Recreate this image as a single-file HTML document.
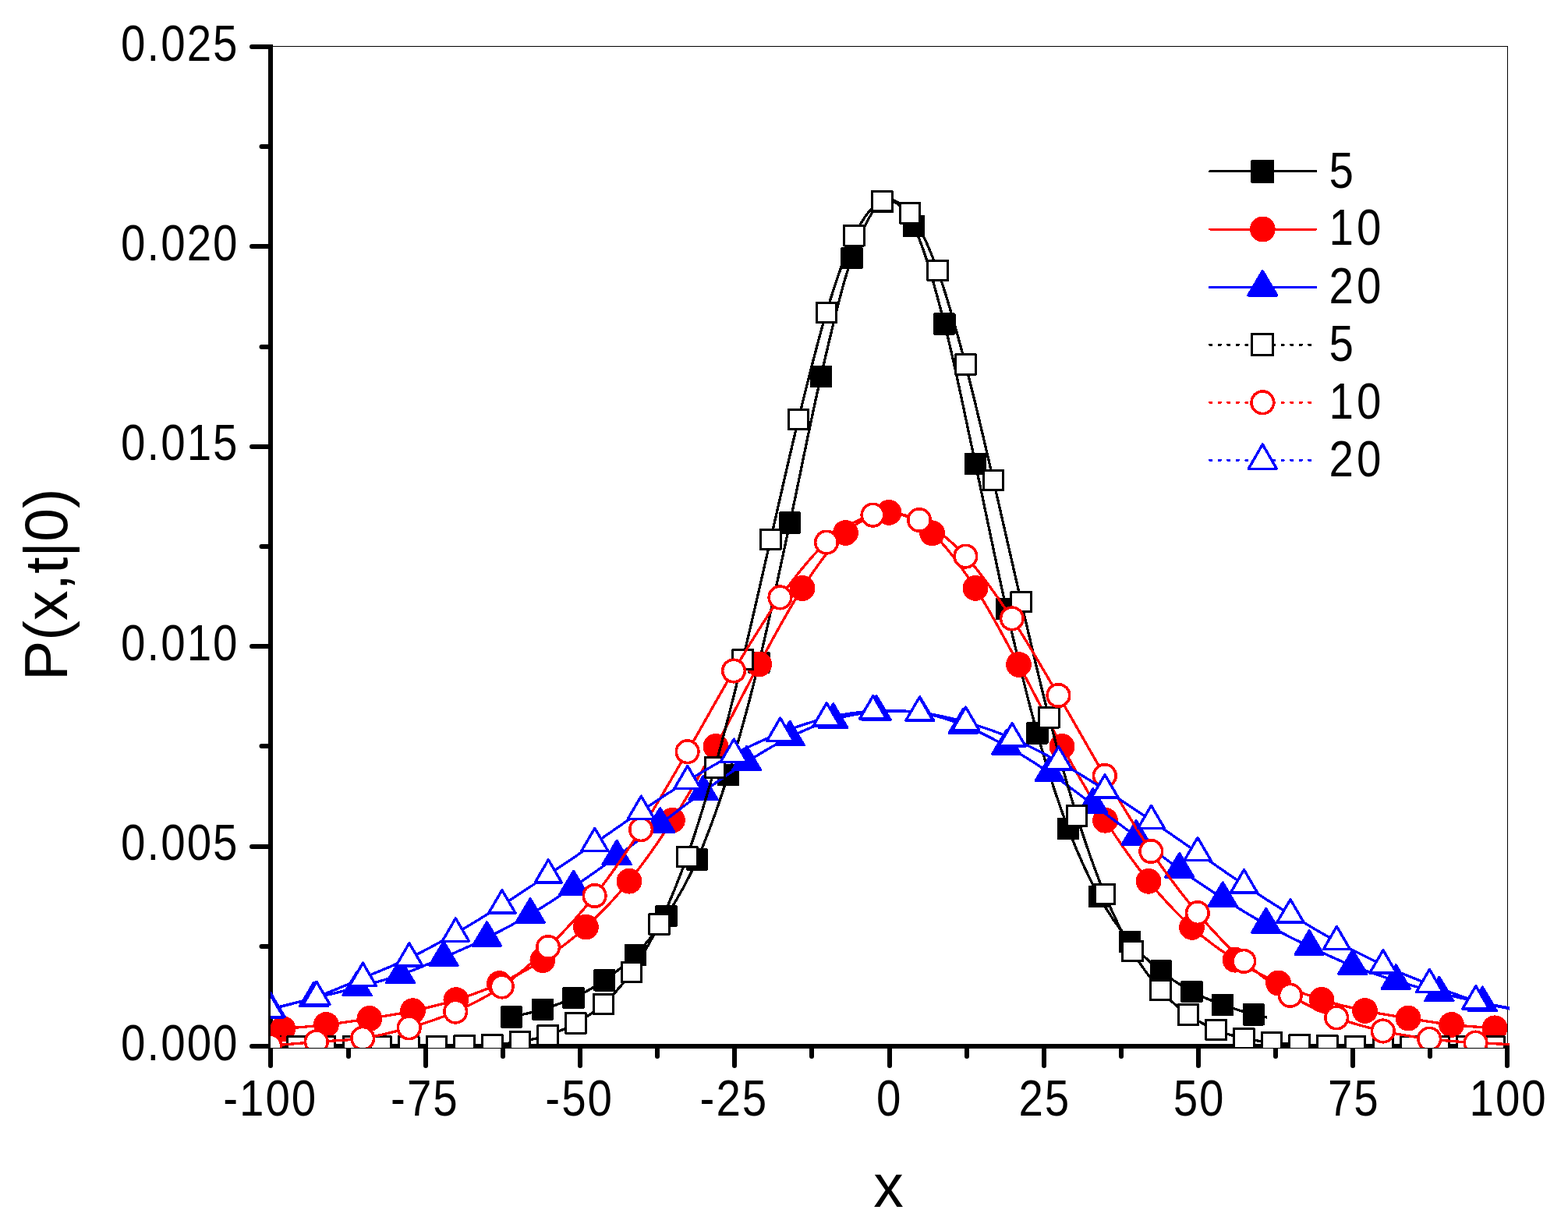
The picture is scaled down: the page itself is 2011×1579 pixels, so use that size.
<!DOCTYPE html>
<html lang="en"><head><meta charset="utf-8"><title>P(x,t|0) vs x</title>
<style>html,body{margin:0;padding:0;background:#fff;overflow:hidden}svg{display:block}text{font-family:"Liberation Sans",sans-serif;fill:#000}</style></head><body>
<svg width="2011" height="1579" viewBox="0 0 2011 1579">
<rect width="2011" height="1579" fill="#fff"/>
<defs><clipPath id="plot"><rect x="347" y="40" width="1589" height="1304"/></clipPath></defs>
<g shape-rendering="crispEdges" fill="#000">
<rect x="347" y="59" width="1587" height="1"/>
<rect x="1933" y="59" width="1" height="1286"/>
<rect x="344" y="57" width="6" height="1288"/>
<rect x="344" y="1339" width="1592" height="6"/>
</g>
<g stroke="#000" stroke-width="6" stroke-linecap="round" fill="none">
<line x1="323" y1="1342" x2="345" y2="1342"/>
<line x1="335.5" y1="1214" x2="345" y2="1214"/>
<line x1="323" y1="1086" x2="345" y2="1086"/>
<line x1="335.5" y1="957" x2="345" y2="957"/>
<line x1="323" y1="829" x2="345" y2="829"/>
<line x1="335.5" y1="701" x2="345" y2="701"/>
<line x1="323" y1="573" x2="345" y2="573"/>
<line x1="335.5" y1="445" x2="345" y2="445"/>
<line x1="323" y1="316" x2="345" y2="316"/>
<line x1="335.5" y1="188" x2="345" y2="188"/>
<line x1="323" y1="60" x2="345" y2="60"/>
<line x1="347" y1="1344" x2="347" y2="1367"/>
<line x1="447" y1="1344" x2="447" y2="1355"/>
<line x1="546" y1="1344" x2="546" y2="1367"/>
<line x1="645" y1="1344" x2="645" y2="1355"/>
<line x1="744" y1="1344" x2="744" y2="1367"/>
<line x1="843" y1="1344" x2="843" y2="1355"/>
<line x1="942" y1="1344" x2="942" y2="1367"/>
<line x1="1041" y1="1344" x2="1041" y2="1355"/>
<line x1="1141" y1="1344" x2="1141" y2="1367"/>
<line x1="1240" y1="1344" x2="1240" y2="1355"/>
<line x1="1339" y1="1344" x2="1339" y2="1367"/>
<line x1="1438" y1="1344" x2="1438" y2="1355"/>
<line x1="1537" y1="1344" x2="1537" y2="1367"/>
<line x1="1636" y1="1344" x2="1636" y2="1355"/>
<line x1="1735" y1="1344" x2="1735" y2="1367"/>
<line x1="1834" y1="1344" x2="1834" y2="1355"/>
<line x1="1933" y1="1344" x2="1933" y2="1367"/>
</g>
<text transform="translate(306.52,1359.50) scale(0.88,1)" text-anchor="end" font-size="64.2px" letter-spacing="2.3">0.000</text>
<text transform="translate(306.52,1103.10) scale(0.88,1)" text-anchor="end" font-size="64.2px" letter-spacing="2.3">0.005</text>
<text transform="translate(306.52,846.70) scale(0.88,1)" text-anchor="end" font-size="64.2px" letter-spacing="2.3">0.010</text>
<text transform="translate(306.52,590.30) scale(0.88,1)" text-anchor="end" font-size="64.2px" letter-spacing="2.3">0.015</text>
<text transform="translate(306.52,333.90) scale(0.88,1)" text-anchor="end" font-size="64.2px" letter-spacing="2.3">0.020</text>
<text transform="translate(306.52,77.50) scale(0.88,1)" text-anchor="end" font-size="64.2px" letter-spacing="2.3">0.025</text>
<text transform="translate(346.71,1430.60) scale(0.88,1)" text-anchor="middle" font-size="64.2px" letter-spacing="2.3">-100</text>
<text transform="translate(544.96,1430.60) scale(0.88,1)" text-anchor="middle" font-size="64.2px" letter-spacing="2.3">-75</text>
<text transform="translate(743.21,1430.60) scale(0.88,1)" text-anchor="middle" font-size="64.2px" letter-spacing="2.3">-50</text>
<text transform="translate(941.46,1430.60) scale(0.88,1)" text-anchor="middle" font-size="64.2px" letter-spacing="2.3">-25</text>
<text transform="translate(1140.61,1430.60) scale(0.88,1)" text-anchor="middle" font-size="64.2px" letter-spacing="2.3">0</text>
<text transform="translate(1339.86,1430.60) scale(0.88,1)" text-anchor="middle" font-size="64.2px" letter-spacing="2.3">25</text>
<text transform="translate(1538.11,1430.60) scale(0.88,1)" text-anchor="middle" font-size="64.2px" letter-spacing="2.3">50</text>
<text transform="translate(1736.36,1430.60) scale(0.88,1)" text-anchor="middle" font-size="64.2px" letter-spacing="2.3">75</text>
<text transform="translate(1934.61,1430.60) scale(0.88,1)" text-anchor="middle" font-size="64.2px" letter-spacing="2.3">100</text>
<text x="1139.5" y="1548" font-size="77px" text-anchor="middle">x</text>
<text transform="translate(86.2,873) rotate(-90)" font-size="77px">P(x,t|0)</text>
<g clip-path="url(#plot)" shape-rendering="crispEdges" fill="none" stroke-linejoin="round">
<path d="M656.3,1304.5C662.9,1302.9 682.7,1298.8 695.9,1294.7C709.1,1290.6 722.4,1286.1 735.6,1279.9C748.8,1273.7 762.0,1266.6 775.2,1257.4C788.4,1248.2 801.7,1238.5 814.9,1224.8C828.1,1211.1 841.3,1195.7 854.5,1175.3C867.7,1154.9 881.0,1132.7 894.2,1102.5C907.4,1072.3 920.6,1036.2 933.8,994.1C947.0,952.0 960.3,903.5 973.5,849.6C986.7,795.7 999.9,731.6 1013.1,670.5C1026.3,609.4 1039.6,539.6 1052.8,483.0C1066.0,426.4 1079.2,368.2 1092.4,330.9C1105.6,293.6 1118.9,265.8 1132.1,259.0C1145.3,252.2 1158.5,263.8 1171.7,289.9C1184.9,316.0 1198.2,364.7 1211.4,415.5C1224.6,466.3 1237.8,534.0 1251.0,594.9C1264.2,655.8 1277.5,723.3 1290.7,780.9C1303.9,838.5 1317.1,893.5 1330.3,940.5C1343.5,987.5 1356.8,1028.0 1370.0,1062.9C1383.2,1097.8 1396.4,1125.7 1409.6,1149.9C1422.8,1174.1 1436.1,1192.0 1449.3,1208.0C1462.5,1224.0 1475.7,1234.9 1488.9,1245.6C1502.1,1256.2 1515.4,1264.7 1528.6,1271.9C1541.8,1279.1 1555.0,1284.0 1568.2,1288.9C1581.4,1293.8 1598.4,1298.7 1607.9,1301.4C1617.3,1304.1 1622.0,1304.3 1624.9,1304.9" stroke="#000" stroke-width="3.3"/>
<rect x="642.1" y="1290.3" width="28.3" height="28.3" rx="1.6" fill="#000"/><rect x="681.8" y="1280.5" width="28.3" height="28.3" rx="1.6" fill="#000"/><rect x="721.4" y="1265.8" width="28.3" height="28.3" rx="1.6" fill="#000"/><rect x="761.1" y="1243.2" width="28.3" height="28.3" rx="1.6" fill="#000"/><rect x="800.7" y="1210.6" width="28.3" height="28.3" rx="1.6" fill="#000"/><rect x="840.4" y="1161.1" width="28.3" height="28.3" rx="1.6" fill="#000"/><rect x="880.0" y="1088.3" width="28.3" height="28.3" rx="1.6" fill="#000"/><rect x="919.7" y="980.0" width="28.3" height="28.3" rx="1.6" fill="#000"/><rect x="959.3" y="835.5" width="28.3" height="28.3" rx="1.6" fill="#000"/><rect x="999.0" y="656.4" width="28.3" height="28.3" rx="1.6" fill="#000"/><rect x="1038.6" y="468.9" width="28.3" height="28.3" rx="1.6" fill="#000"/><rect x="1078.3" y="316.8" width="28.3" height="28.3" rx="1.6" fill="#000"/><rect x="1117.9" y="244.8" width="28.3" height="28.3" rx="1.6" fill="#000"/><rect x="1157.6" y="275.8" width="28.3" height="28.3" rx="1.6" fill="#000"/><rect x="1197.2" y="401.4" width="28.3" height="28.3" rx="1.6" fill="#000"/><rect x="1236.9" y="580.8" width="28.3" height="28.3" rx="1.6" fill="#000"/><rect x="1276.5" y="766.8" width="28.3" height="28.3" rx="1.6" fill="#000"/><rect x="1316.2" y="926.4" width="28.3" height="28.3" rx="1.6" fill="#000"/><rect x="1355.8" y="1048.8" width="28.3" height="28.3" rx="1.6" fill="#000"/><rect x="1395.5" y="1135.8" width="28.3" height="28.3" rx="1.6" fill="#000"/><rect x="1435.1" y="1193.8" width="28.3" height="28.3" rx="1.6" fill="#000"/><rect x="1474.8" y="1231.4" width="28.3" height="28.3" rx="1.6" fill="#000"/><rect x="1514.4" y="1257.8" width="28.3" height="28.3" rx="1.6" fill="#000"/><rect x="1554.1" y="1274.8" width="28.3" height="28.3" rx="1.6" fill="#000"/><rect x="1593.7" y="1287.2" width="28.3" height="28.3" rx="1.6" fill="#000"/>
<path d="M362.9,1319.6C372.1,1318.7 399.9,1316.6 418.4,1314.4C436.9,1312.2 455.4,1309.5 473.9,1306.5C492.4,1303.5 510.9,1300.7 529.4,1296.7C547.9,1292.7 566.4,1288.4 584.9,1282.6C603.4,1276.8 621.9,1270.1 640.4,1261.6C658.9,1253.1 677.4,1243.7 695.9,1231.6C714.4,1219.5 732.9,1206.0 751.4,1189.1C769.9,1172.2 788.4,1153.0 806.9,1130.2C825.4,1107.4 843.9,1081.0 862.4,1052.2C881.0,1023.4 899.5,990.8 918.0,957.4C936.5,924.0 955.0,885.8 973.5,852.0C992.0,818.2 1010.5,782.6 1029.0,754.5C1047.5,726.4 1066.0,699.6 1084.5,683.4C1103.0,667.2 1121.5,657.3 1140.0,657.4C1158.5,657.5 1177.0,667.6 1195.5,683.8C1214.0,700.0 1232.5,726.3 1251.0,754.4C1269.5,782.5 1288.0,818.6 1306.5,852.4C1325.0,886.2 1343.5,924.0 1362.0,957.3C1380.5,990.6 1399.0,1023.5 1417.5,1052.3C1436.1,1081.1 1454.6,1107.4 1473.1,1130.3C1491.6,1153.2 1510.1,1172.6 1528.6,1189.4C1547.1,1206.2 1565.6,1219.3 1584.1,1231.2C1602.6,1243.1 1621.1,1252.5 1639.6,1261.0C1658.1,1269.5 1676.6,1276.5 1695.1,1282.4C1713.6,1288.3 1732.1,1292.5 1750.6,1296.5C1769.1,1300.5 1787.6,1303.1 1806.1,1306.1C1824.6,1309.1 1843.1,1312.3 1861.6,1314.4C1880.1,1316.5 1907.9,1318.1 1917.1,1318.8" stroke="#f00" stroke-width="3.3"/>
<circle cx="362.9" cy="1319.6" r="16.4" fill="#f00"/><circle cx="418.4" cy="1314.4" r="16.4" fill="#f00"/><circle cx="473.9" cy="1306.5" r="16.4" fill="#f00"/><circle cx="529.4" cy="1296.7" r="16.4" fill="#f00"/><circle cx="584.9" cy="1282.6" r="16.4" fill="#f00"/><circle cx="640.4" cy="1261.6" r="16.4" fill="#f00"/><circle cx="695.9" cy="1231.6" r="16.4" fill="#f00"/><circle cx="751.4" cy="1189.1" r="16.4" fill="#f00"/><circle cx="806.9" cy="1130.2" r="16.4" fill="#f00"/><circle cx="862.4" cy="1052.2" r="16.4" fill="#f00"/><circle cx="918.0" cy="957.4" r="16.4" fill="#f00"/><circle cx="973.5" cy="852.0" r="16.4" fill="#f00"/><circle cx="1029.0" cy="754.5" r="16.4" fill="#f00"/><circle cx="1084.5" cy="683.4" r="16.4" fill="#f00"/><circle cx="1140.0" cy="657.4" r="16.4" fill="#f00"/><circle cx="1195.5" cy="683.8" r="16.4" fill="#f00"/><circle cx="1251.0" cy="754.4" r="16.4" fill="#f00"/><circle cx="1306.5" cy="852.4" r="16.4" fill="#f00"/><circle cx="1362.0" cy="957.3" r="16.4" fill="#f00"/><circle cx="1417.5" cy="1052.3" r="16.4" fill="#f00"/><circle cx="1473.1" cy="1130.3" r="16.4" fill="#f00"/><circle cx="1528.6" cy="1189.4" r="16.4" fill="#f00"/><circle cx="1584.1" cy="1231.2" r="16.4" fill="#f00"/><circle cx="1639.6" cy="1261.0" r="16.4" fill="#f00"/><circle cx="1695.1" cy="1282.4" r="16.4" fill="#f00"/><circle cx="1750.6" cy="1296.5" r="16.4" fill="#f00"/><circle cx="1806.1" cy="1306.1" r="16.4" fill="#f00"/><circle cx="1861.6" cy="1314.4" r="16.4" fill="#f00"/><circle cx="1917.1" cy="1318.8" r="16.4" fill="#f00"/>
<path d="M347.0,1294.0C356.3,1291.8 384.0,1285.1 402.5,1280.5C421.0,1275.9 439.5,1271.5 458.0,1266.5C476.5,1261.5 495.0,1256.9 513.5,1250.5C532.0,1244.1 550.5,1236.1 569.0,1228.2C587.5,1220.3 606.0,1212.2 624.5,1203.0C643.1,1193.8 661.6,1183.9 680.1,1173.0C698.6,1162.1 717.1,1149.9 735.6,1137.5C754.1,1125.1 772.6,1111.9 791.1,1098.5C809.6,1085.1 828.1,1070.8 846.6,1057.0C865.1,1043.2 883.6,1028.8 902.1,1015.5C920.6,1002.2 939.1,989.2 957.6,977.5C976.1,965.8 994.6,954.6 1013.1,945.5C1031.6,936.4 1050.1,928.4 1068.6,923.0C1087.1,917.6 1105.6,914.5 1124.1,913.0C1142.6,911.5 1161.1,911.2 1179.7,914.0C1198.2,916.8 1216.7,922.8 1235.2,930.0C1253.7,937.2 1272.2,946.8 1290.7,957.0C1309.2,967.2 1327.7,978.8 1346.2,991.3C1364.7,1003.8 1383.2,1018.4 1401.7,1032.0C1420.2,1045.6 1438.7,1059.2 1457.2,1073.0C1475.7,1086.8 1494.2,1101.6 1512.7,1114.8C1531.2,1128.0 1549.7,1140.5 1568.2,1152.3C1586.7,1164.1 1605.2,1175.4 1623.7,1185.7C1642.2,1196.0 1660.7,1205.1 1679.2,1214.0C1697.7,1222.9 1716.2,1231.7 1734.8,1239.0C1753.3,1246.3 1771.8,1252.2 1790.3,1258.0C1808.8,1263.8 1827.3,1268.8 1845.8,1273.5C1864.3,1278.2 1886.2,1283.0 1901.3,1286.3C1916.3,1289.5 1930.2,1291.9 1936.0,1293.0" stroke="#00f" stroke-width="3.3"/>
<polygon points="347.0,1273.9 365.0,1304.2 329.0,1304.2" fill="#00f" stroke="#00f" stroke-width="3.4" stroke-linejoin="round"/><polygon points="402.5,1260.4 420.5,1290.7 384.5,1290.7" fill="#00f" stroke="#00f" stroke-width="3.4" stroke-linejoin="round"/><polygon points="458.0,1246.4 476.0,1276.7 440.0,1276.7" fill="#00f" stroke="#00f" stroke-width="3.4" stroke-linejoin="round"/><polygon points="513.5,1230.4 531.5,1260.7 495.5,1260.7" fill="#00f" stroke="#00f" stroke-width="3.4" stroke-linejoin="round"/><polygon points="569.0,1208.1 587.0,1238.4 551.0,1238.4" fill="#00f" stroke="#00f" stroke-width="3.4" stroke-linejoin="round"/><polygon points="624.5,1182.9 642.5,1213.2 606.5,1213.2" fill="#00f" stroke="#00f" stroke-width="3.4" stroke-linejoin="round"/><polygon points="680.1,1152.9 698.1,1183.2 662.1,1183.2" fill="#00f" stroke="#00f" stroke-width="3.4" stroke-linejoin="round"/><polygon points="735.6,1117.4 753.6,1147.7 717.6,1147.7" fill="#00f" stroke="#00f" stroke-width="3.4" stroke-linejoin="round"/><polygon points="791.1,1078.4 809.1,1108.7 773.1,1108.7" fill="#00f" stroke="#00f" stroke-width="3.4" stroke-linejoin="round"/><polygon points="846.6,1036.9 864.6,1067.2 828.6,1067.2" fill="#00f" stroke="#00f" stroke-width="3.4" stroke-linejoin="round"/><polygon points="902.1,995.4 920.1,1025.7 884.1,1025.7" fill="#00f" stroke="#00f" stroke-width="3.4" stroke-linejoin="round"/><polygon points="957.6,957.4 975.6,987.7 939.6,987.7" fill="#00f" stroke="#00f" stroke-width="3.4" stroke-linejoin="round"/><polygon points="1013.1,925.4 1031.1,955.7 995.1,955.7" fill="#00f" stroke="#00f" stroke-width="3.4" stroke-linejoin="round"/><polygon points="1068.6,902.9 1086.6,933.2 1050.6,933.2" fill="#00f" stroke="#00f" stroke-width="3.4" stroke-linejoin="round"/><polygon points="1124.1,892.9 1142.1,923.2 1106.1,923.2" fill="#00f" stroke="#00f" stroke-width="3.4" stroke-linejoin="round"/><polygon points="1179.7,893.9 1197.7,924.2 1161.7,924.2" fill="#00f" stroke="#00f" stroke-width="3.4" stroke-linejoin="round"/><polygon points="1235.2,909.9 1253.2,940.2 1217.2,940.2" fill="#00f" stroke="#00f" stroke-width="3.4" stroke-linejoin="round"/><polygon points="1290.7,936.9 1308.7,967.2 1272.7,967.2" fill="#00f" stroke="#00f" stroke-width="3.4" stroke-linejoin="round"/><polygon points="1346.2,971.2 1364.2,1001.5 1328.2,1001.5" fill="#00f" stroke="#00f" stroke-width="3.4" stroke-linejoin="round"/><polygon points="1401.7,1011.9 1419.7,1042.2 1383.7,1042.2" fill="#00f" stroke="#00f" stroke-width="3.4" stroke-linejoin="round"/><polygon points="1457.2,1052.9 1475.2,1083.2 1439.2,1083.2" fill="#00f" stroke="#00f" stroke-width="3.4" stroke-linejoin="round"/><polygon points="1512.7,1094.7 1530.7,1125.0 1494.7,1125.0" fill="#00f" stroke="#00f" stroke-width="3.4" stroke-linejoin="round"/><polygon points="1568.2,1132.2 1586.2,1162.5 1550.2,1162.5" fill="#00f" stroke="#00f" stroke-width="3.4" stroke-linejoin="round"/><polygon points="1623.7,1165.6 1641.7,1195.9 1605.7,1195.9" fill="#00f" stroke="#00f" stroke-width="3.4" stroke-linejoin="round"/><polygon points="1679.2,1193.9 1697.2,1224.2 1661.2,1224.2" fill="#00f" stroke="#00f" stroke-width="3.4" stroke-linejoin="round"/><polygon points="1734.8,1218.9 1752.8,1249.2 1716.8,1249.2" fill="#00f" stroke="#00f" stroke-width="3.4" stroke-linejoin="round"/><polygon points="1790.3,1237.9 1808.3,1268.2 1772.3,1268.2" fill="#00f" stroke="#00f" stroke-width="3.4" stroke-linejoin="round"/><polygon points="1845.8,1253.4 1863.8,1283.7 1827.8,1283.7" fill="#00f" stroke="#00f" stroke-width="3.4" stroke-linejoin="round"/><polygon points="1901.3,1266.2 1919.3,1296.5 1883.3,1296.5" fill="#00f" stroke="#00f" stroke-width="3.4" stroke-linejoin="round"/>
<path d="M345.7,1342.5C351.6,1342.5 369.5,1342.5 381.4,1342.5C393.3,1342.5 405.2,1342.5 417.1,1342.5C429.0,1342.5 440.9,1342.5 452.8,1342.5C464.7,1342.5 476.6,1342.5 488.5,1342.5C500.4,1342.5 512.3,1342.5 524.2,1342.4C536.1,1342.4 548.0,1342.4 559.9,1342.2C571.8,1342.0 583.7,1341.6 595.6,1341.3C607.5,1341.0 619.4,1341.1 631.3,1340.2C643.2,1339.3 655.1,1338.0 667.0,1336.0C678.9,1334.0 690.8,1331.9 702.7,1328.0C714.6,1324.1 726.5,1319.1 738.4,1312.4C750.3,1305.7 762.2,1298.8 774.1,1287.9C786.0,1277.0 797.9,1264.0 809.8,1246.9C821.7,1229.8 833.6,1210.2 845.5,1185.5C857.4,1160.8 869.3,1132.3 881.2,1098.8C893.1,1065.3 905.0,1026.5 916.9,984.4C928.8,942.3 940.7,894.7 952.6,846.0C964.5,797.3 976.4,743.3 988.3,692.0C1000.2,640.7 1012.1,586.5 1024.0,538.0C1036.0,489.5 1047.9,440.3 1059.8,401.0C1071.7,361.7 1083.6,326.1 1095.5,302.2C1107.4,278.3 1119.3,262.6 1131.2,257.8C1143.1,253.0 1155.0,258.5 1166.9,273.4C1178.8,288.2 1190.7,314.5 1202.6,346.9C1214.5,379.2 1226.4,422.7 1238.3,467.5C1250.2,512.3 1262.1,565.1 1274.0,615.9C1285.9,666.6 1297.8,721.3 1309.7,772.0C1321.6,822.7 1333.5,874.5 1345.4,920.2C1357.3,966.0 1369.2,1008.7 1381.1,1046.5C1393.0,1084.3 1404.9,1118.0 1416.8,1146.9C1428.7,1175.8 1440.6,1199.6 1452.5,1220.1C1464.4,1240.6 1476.3,1256.4 1488.2,1270.0C1500.1,1283.6 1512.0,1293.0 1523.9,1301.5C1535.8,1310.0 1547.7,1315.8 1559.6,1320.9C1571.5,1326.0 1583.4,1329.3 1595.3,1332.0C1607.2,1334.7 1619.1,1335.8 1631.0,1337.1C1642.9,1338.4 1654.8,1339.3 1666.7,1340.0C1678.6,1340.7 1690.5,1340.7 1702.4,1341.0C1714.3,1341.3 1726.2,1341.8 1738.1,1342.0C1750.0,1342.2 1761.9,1342.2 1773.8,1342.3C1785.7,1342.4 1797.6,1342.5 1809.5,1342.5C1821.4,1342.5 1833.3,1342.5 1845.2,1342.5C1857.1,1342.5 1869.0,1342.5 1880.9,1342.5C1892.8,1342.5 1910.7,1342.5 1916.6,1342.5" stroke="#000" stroke-width="3.3"/>
<rect x="358.5" y="1327.5" width="2" height="2" fill="#000"/>
<rect x="368.6" y="1329.7" width="25.6" height="25.6" fill="#fff" stroke="#000" stroke-width="3.0"/><rect x="404.3" y="1329.7" width="25.6" height="25.6" fill="#fff" stroke="#000" stroke-width="3.0"/><rect x="440.0" y="1329.7" width="25.6" height="25.6" fill="#fff" stroke="#000" stroke-width="3.0"/><rect x="475.7" y="1329.7" width="25.6" height="25.6" fill="#fff" stroke="#000" stroke-width="3.0"/><rect x="511.4" y="1329.6" width="25.6" height="25.6" fill="#fff" stroke="#000" stroke-width="3.0"/><rect x="547.1" y="1329.4" width="25.6" height="25.6" fill="#fff" stroke="#000" stroke-width="3.0"/><rect x="582.8" y="1328.5" width="25.6" height="25.6" fill="#fff" stroke="#000" stroke-width="3.0"/><rect x="618.5" y="1327.4" width="25.6" height="25.6" fill="#fff" stroke="#000" stroke-width="3.0"/><rect x="654.2" y="1323.2" width="25.6" height="25.6" fill="#fff" stroke="#000" stroke-width="3.0"/><rect x="689.9" y="1315.2" width="25.6" height="25.6" fill="#fff" stroke="#000" stroke-width="3.0"/><rect x="725.6" y="1299.6" width="25.6" height="25.6" fill="#fff" stroke="#000" stroke-width="3.0"/><rect x="761.3" y="1275.1" width="25.6" height="25.6" fill="#fff" stroke="#000" stroke-width="3.0"/><rect x="797.0" y="1234.1" width="25.6" height="25.6" fill="#fff" stroke="#000" stroke-width="3.0"/><rect x="832.7" y="1172.7" width="25.6" height="25.6" fill="#fff" stroke="#000" stroke-width="3.0"/><rect x="868.4" y="1086.0" width="25.6" height="25.6" fill="#fff" stroke="#000" stroke-width="3.0"/><rect x="904.1" y="971.6" width="25.6" height="25.6" fill="#fff" stroke="#000" stroke-width="3.0"/><rect x="939.8" y="833.2" width="25.6" height="25.6" fill="#fff" stroke="#000" stroke-width="3.0"/><rect x="975.5" y="679.2" width="25.6" height="25.6" fill="#fff" stroke="#000" stroke-width="3.0"/><rect x="1011.2" y="525.2" width="25.6" height="25.6" fill="#fff" stroke="#000" stroke-width="3.0"/><rect x="1047.0" y="388.2" width="25.6" height="25.6" fill="#fff" stroke="#000" stroke-width="3.0"/><rect x="1082.7" y="289.4" width="25.6" height="25.6" fill="#fff" stroke="#000" stroke-width="3.0"/><rect x="1118.4" y="245.0" width="25.6" height="25.6" fill="#fff" stroke="#000" stroke-width="3.0"/><rect x="1154.1" y="260.6" width="25.6" height="25.6" fill="#fff" stroke="#000" stroke-width="3.0"/><rect x="1189.8" y="334.1" width="25.6" height="25.6" fill="#fff" stroke="#000" stroke-width="3.0"/><rect x="1225.5" y="454.7" width="25.6" height="25.6" fill="#fff" stroke="#000" stroke-width="3.0"/><rect x="1261.2" y="603.1" width="25.6" height="25.6" fill="#fff" stroke="#000" stroke-width="3.0"/><rect x="1296.9" y="759.2" width="25.6" height="25.6" fill="#fff" stroke="#000" stroke-width="3.0"/><rect x="1332.6" y="907.4" width="25.6" height="25.6" fill="#fff" stroke="#000" stroke-width="3.0"/><rect x="1368.3" y="1033.7" width="25.6" height="25.6" fill="#fff" stroke="#000" stroke-width="3.0"/><rect x="1404.0" y="1134.1" width="25.6" height="25.6" fill="#fff" stroke="#000" stroke-width="3.0"/><rect x="1439.7" y="1207.3" width="25.6" height="25.6" fill="#fff" stroke="#000" stroke-width="3.0"/><rect x="1475.4" y="1257.2" width="25.6" height="25.6" fill="#fff" stroke="#000" stroke-width="3.0"/><rect x="1511.1" y="1288.7" width="25.6" height="25.6" fill="#fff" stroke="#000" stroke-width="3.0"/><rect x="1546.8" y="1308.1" width="25.6" height="25.6" fill="#fff" stroke="#000" stroke-width="3.0"/><rect x="1582.5" y="1319.2" width="25.6" height="25.6" fill="#fff" stroke="#000" stroke-width="3.0"/><rect x="1618.2" y="1324.3" width="25.6" height="25.6" fill="#fff" stroke="#000" stroke-width="3.0"/><rect x="1653.9" y="1327.2" width="25.6" height="25.6" fill="#fff" stroke="#000" stroke-width="3.0"/><rect x="1689.6" y="1328.2" width="25.6" height="25.6" fill="#fff" stroke="#000" stroke-width="3.0"/><rect x="1725.3" y="1329.2" width="25.6" height="25.6" fill="#fff" stroke="#000" stroke-width="3.0"/><rect x="1761.0" y="1329.5" width="25.6" height="25.6" fill="#fff" stroke="#000" stroke-width="3.0"/><rect x="1796.7" y="1329.7" width="25.6" height="25.6" fill="#fff" stroke="#000" stroke-width="3.0"/><rect x="1832.4" y="1329.7" width="25.6" height="25.6" fill="#fff" stroke="#000" stroke-width="3.0"/><rect x="1868.1" y="1329.7" width="25.6" height="25.6" fill="#fff" stroke="#000" stroke-width="3.0"/><rect x="1903.8" y="1329.7" width="25.6" height="25.6" fill="#fff" stroke="#000" stroke-width="3.0"/>
<path d="M346.3,1341.5C356.2,1340.7 386.0,1338.0 405.8,1336.4C425.6,1334.8 445.4,1334.8 465.2,1331.8C485.1,1328.8 504.9,1324.0 524.7,1318.3C544.5,1312.6 564.4,1306.4 584.2,1297.6C604.0,1288.8 623.8,1279.3 643.7,1265.5C663.5,1251.7 683.3,1234.4 703.1,1215.0C723.0,1195.6 742.8,1174.2 762.6,1149.0C782.5,1123.8 802.3,1094.9 822.1,1064.1C841.9,1033.3 861.7,998.1 881.6,964.2C901.4,930.3 921.2,893.5 941.0,860.5C960.9,827.5 980.7,793.9 1000.5,766.4C1020.3,738.9 1040.2,713.2 1060.0,695.6C1079.8,678.0 1099.6,665.4 1119.5,660.6C1139.3,655.8 1159.1,658.2 1179.0,667.0C1198.8,675.8 1218.6,692.5 1238.4,713.6C1258.2,734.7 1278.1,763.7 1297.9,793.4C1317.7,823.1 1337.5,858.4 1357.4,892.0C1377.2,925.6 1397.0,961.7 1416.8,995.0C1436.7,1028.3 1456.5,1062.7 1476.3,1092.0C1496.1,1121.3 1516.0,1147.6 1535.8,1171.1C1555.6,1194.6 1575.4,1215.3 1595.3,1232.9C1615.1,1250.5 1634.9,1264.7 1654.8,1276.8C1674.6,1288.9 1694.4,1297.8 1714.2,1305.4C1734.0,1313.0 1753.9,1318.0 1773.7,1322.5C1793.5,1327.0 1813.3,1330.2 1833.2,1332.7C1853.0,1335.2 1875.5,1336.5 1892.6,1337.6C1909.8,1338.7 1928.8,1339.2 1936.0,1339.5" stroke="#f00" stroke-width="3.3"/>
<circle cx="346.3" cy="1341.5" r="14.30" fill="#fff" stroke="#f00" stroke-width="3.6"/><circle cx="405.8" cy="1336.4" r="14.30" fill="#fff" stroke="#f00" stroke-width="3.6"/><circle cx="465.2" cy="1331.8" r="14.30" fill="#fff" stroke="#f00" stroke-width="3.6"/><circle cx="524.7" cy="1318.3" r="14.30" fill="#fff" stroke="#f00" stroke-width="3.6"/><circle cx="584.2" cy="1297.6" r="14.30" fill="#fff" stroke="#f00" stroke-width="3.6"/><circle cx="643.7" cy="1265.5" r="14.30" fill="#fff" stroke="#f00" stroke-width="3.6"/><circle cx="703.1" cy="1215.0" r="14.30" fill="#fff" stroke="#f00" stroke-width="3.6"/><circle cx="762.6" cy="1149.0" r="14.30" fill="#fff" stroke="#f00" stroke-width="3.6"/><circle cx="822.1" cy="1064.1" r="14.30" fill="#fff" stroke="#f00" stroke-width="3.6"/><circle cx="881.6" cy="964.2" r="14.30" fill="#fff" stroke="#f00" stroke-width="3.6"/><circle cx="941.0" cy="860.5" r="14.30" fill="#fff" stroke="#f00" stroke-width="3.6"/><circle cx="1000.5" cy="766.4" r="14.30" fill="#fff" stroke="#f00" stroke-width="3.6"/><circle cx="1060.0" cy="695.6" r="14.30" fill="#fff" stroke="#f00" stroke-width="3.6"/><circle cx="1119.5" cy="660.6" r="14.30" fill="#fff" stroke="#f00" stroke-width="3.6"/><circle cx="1179.0" cy="667.0" r="14.30" fill="#fff" stroke="#f00" stroke-width="3.6"/><circle cx="1238.4" cy="713.6" r="14.30" fill="#fff" stroke="#f00" stroke-width="3.6"/><circle cx="1297.9" cy="793.4" r="14.30" fill="#fff" stroke="#f00" stroke-width="3.6"/><circle cx="1357.4" cy="892.0" r="14.30" fill="#fff" stroke="#f00" stroke-width="3.6"/><circle cx="1416.8" cy="995.0" r="14.30" fill="#fff" stroke="#f00" stroke-width="3.6"/><circle cx="1476.3" cy="1092.0" r="14.30" fill="#fff" stroke="#f00" stroke-width="3.6"/><circle cx="1535.8" cy="1171.1" r="14.30" fill="#fff" stroke="#f00" stroke-width="3.6"/><circle cx="1595.3" cy="1232.9" r="14.30" fill="#fff" stroke="#f00" stroke-width="3.6"/><circle cx="1654.8" cy="1276.8" r="14.30" fill="#fff" stroke="#f00" stroke-width="3.6"/><circle cx="1714.2" cy="1305.4" r="14.30" fill="#fff" stroke="#f00" stroke-width="3.6"/><circle cx="1773.7" cy="1322.5" r="14.30" fill="#fff" stroke="#f00" stroke-width="3.6"/><circle cx="1833.2" cy="1332.7" r="14.30" fill="#fff" stroke="#f00" stroke-width="3.6"/><circle cx="1892.6" cy="1337.6" r="14.30" fill="#fff" stroke="#f00" stroke-width="3.6"/>
<path d="M346.5,1294.8C356.4,1292.1 386.2,1285.2 406.0,1278.5C425.8,1271.8 445.6,1262.8 465.4,1254.5C485.3,1246.2 505.1,1238.5 524.9,1229.0C544.8,1219.5 564.6,1208.5 584.4,1197.2C604.2,1185.9 624.0,1173.5 643.9,1161.0C663.7,1148.5 683.5,1135.2 703.3,1122.0C723.2,1108.8 743.0,1095.2 762.8,1081.6C782.7,1068.0 802.5,1053.8 822.3,1040.5C842.1,1027.2 861.9,1013.9 881.8,1001.7C901.6,989.5 921.4,977.7 941.2,967.5C961.1,957.3 980.9,948.0 1000.7,940.3C1020.5,932.5 1040.4,925.7 1060.2,921.0C1080.0,916.3 1099.8,913.2 1119.7,912.0C1139.5,910.8 1159.3,911.3 1179.2,913.7C1199.0,916.1 1218.8,920.9 1238.6,926.4C1258.5,931.9 1278.3,938.6 1298.1,947.0C1317.9,955.4 1337.7,966.0 1357.6,977.0C1377.4,988.0 1397.2,1000.4 1417.0,1013.0C1436.9,1025.6 1456.7,1039.1 1476.5,1052.6C1496.3,1066.0 1516.2,1080.0 1536.0,1093.7C1555.8,1107.4 1575.6,1121.7 1595.5,1134.9C1615.3,1148.1 1635.1,1160.9 1655.0,1173.0C1674.8,1185.1 1694.6,1196.9 1714.4,1207.7C1734.2,1218.5 1754.1,1228.8 1773.9,1238.0C1793.7,1247.2 1813.5,1255.0 1833.4,1262.7C1853.2,1270.4 1875.7,1278.8 1892.8,1284.0C1910.0,1289.2 1928.8,1292.3 1936.0,1294.0" stroke="#00f" stroke-width="3.3"/>
<polygon points="346.5,1275.5 363.6,1304.8 329.4,1304.8" fill="#fff" stroke="#00f" stroke-width="3.4" stroke-linejoin="round"/><polygon points="406.0,1259.2 423.1,1288.5 388.9,1288.5" fill="#fff" stroke="#00f" stroke-width="3.4" stroke-linejoin="round"/><polygon points="465.4,1235.2 482.6,1264.5 448.3,1264.5" fill="#fff" stroke="#00f" stroke-width="3.4" stroke-linejoin="round"/><polygon points="524.9,1209.7 542.0,1239.0 507.8,1239.0" fill="#fff" stroke="#00f" stroke-width="3.4" stroke-linejoin="round"/><polygon points="584.4,1177.9 601.5,1207.2 567.3,1207.2" fill="#fff" stroke="#00f" stroke-width="3.4" stroke-linejoin="round"/><polygon points="643.9,1141.7 661.0,1171.0 626.8,1171.0" fill="#fff" stroke="#00f" stroke-width="3.4" stroke-linejoin="round"/><polygon points="703.3,1102.7 720.4,1132.0 686.2,1132.0" fill="#fff" stroke="#00f" stroke-width="3.4" stroke-linejoin="round"/><polygon points="762.8,1062.3 779.9,1091.6 745.7,1091.6" fill="#fff" stroke="#00f" stroke-width="3.4" stroke-linejoin="round"/><polygon points="822.3,1021.2 839.4,1050.5 805.2,1050.5" fill="#fff" stroke="#00f" stroke-width="3.4" stroke-linejoin="round"/><polygon points="881.8,982.4 898.9,1011.7 864.7,1011.7" fill="#fff" stroke="#00f" stroke-width="3.4" stroke-linejoin="round"/><polygon points="941.2,948.2 958.4,977.5 924.1,977.5" fill="#fff" stroke="#00f" stroke-width="3.4" stroke-linejoin="round"/><polygon points="1000.7,921.0 1017.8,950.3 983.6,950.3" fill="#fff" stroke="#00f" stroke-width="3.4" stroke-linejoin="round"/><polygon points="1060.2,901.7 1077.3,931.0 1043.1,931.0" fill="#fff" stroke="#00f" stroke-width="3.4" stroke-linejoin="round"/><polygon points="1119.7,892.7 1136.8,922.0 1102.6,922.0" fill="#fff" stroke="#00f" stroke-width="3.4" stroke-linejoin="round"/><polygon points="1179.2,894.4 1196.2,923.7 1162.1,923.7" fill="#fff" stroke="#00f" stroke-width="3.4" stroke-linejoin="round"/><polygon points="1238.6,907.1 1255.7,936.4 1221.5,936.4" fill="#fff" stroke="#00f" stroke-width="3.4" stroke-linejoin="round"/><polygon points="1298.1,927.7 1315.2,957.0 1281.0,957.0" fill="#fff" stroke="#00f" stroke-width="3.4" stroke-linejoin="round"/><polygon points="1357.6,957.7 1374.7,987.0 1340.5,987.0" fill="#fff" stroke="#00f" stroke-width="3.4" stroke-linejoin="round"/><polygon points="1417.0,993.7 1434.1,1023.0 1400.0,1023.0" fill="#fff" stroke="#00f" stroke-width="3.4" stroke-linejoin="round"/><polygon points="1476.5,1033.3 1493.6,1062.6 1459.4,1062.6" fill="#fff" stroke="#00f" stroke-width="3.4" stroke-linejoin="round"/><polygon points="1536.0,1074.4 1553.1,1103.7 1518.9,1103.7" fill="#fff" stroke="#00f" stroke-width="3.4" stroke-linejoin="round"/><polygon points="1595.5,1115.6 1612.6,1144.9 1578.4,1144.9" fill="#fff" stroke="#00f" stroke-width="3.4" stroke-linejoin="round"/><polygon points="1655.0,1153.7 1672.0,1183.0 1637.9,1183.0" fill="#fff" stroke="#00f" stroke-width="3.4" stroke-linejoin="round"/><polygon points="1714.4,1188.4 1731.5,1217.7 1697.3,1217.7" fill="#fff" stroke="#00f" stroke-width="3.4" stroke-linejoin="round"/><polygon points="1773.9,1218.7 1791.0,1248.0 1756.8,1248.0" fill="#fff" stroke="#00f" stroke-width="3.4" stroke-linejoin="round"/><polygon points="1833.4,1243.4 1850.5,1272.7 1816.3,1272.7" fill="#fff" stroke="#00f" stroke-width="3.4" stroke-linejoin="round"/><polygon points="1892.8,1264.7 1909.9,1294.0 1875.8,1294.0" fill="#fff" stroke="#00f" stroke-width="3.4" stroke-linejoin="round"/>
</g>
<g shape-rendering="crispEdges" fill="none">
<line x1="1551.5" y1="219.8" x2="1688" y2="219.8" stroke="#000" stroke-width="3" stroke-linecap="round"/>
<line x1="1551.5" y1="294.0" x2="1688" y2="294.0" stroke="#f00" stroke-width="3" stroke-linecap="round"/>
<line x1="1551.5" y1="368.5" x2="1688" y2="368.5" stroke="#00f" stroke-width="3" stroke-linecap="round"/>
<line x1="1551.6" y1="442.3" x2="1681.5" y2="442.3" stroke="#000" stroke-width="3" stroke-dasharray="2.2 9.35" stroke-linecap="round"/>
<line x1="1551.6" y1="516.3" x2="1681.5" y2="516.3" stroke="#f00" stroke-width="3" stroke-dasharray="2.2 9.35" stroke-linecap="round"/>
<line x1="1551.6" y1="590.3" x2="1681.5" y2="590.3" stroke="#00f" stroke-width="3" stroke-dasharray="2.2 9.35" stroke-linecap="round"/>
<rect x="1604.3" y="204.8" width="30.0" height="30.0" rx="1.6" fill="#000"/>
<circle cx="1619.3" cy="294.0" r="16.4" fill="#f00"/>
<polygon points="1619.3,347.7 1637.8,378.9 1600.8,378.9" fill="#00f" stroke="#00f" stroke-width="3.4" stroke-linejoin="round"/>
<rect x="1605.8" y="428.8" width="27.0" height="27.0" fill="#fff" stroke="#000" stroke-width="3.0"/>
<circle cx="1619.3" cy="516.3" r="14.30" fill="#fff" stroke="#f00" stroke-width="3.6"/>
<polygon points="1619.3,570.0 1637.3,601.2 1601.3,601.2" fill="#fff" stroke="#00f" stroke-width="3.4" stroke-linejoin="round"/>
</g>
<text transform="translate(1704.50,240.80) scale(0.88,1)" text-anchor="start" font-size="64.2px" letter-spacing="4.6">5</text>
<text transform="translate(1704.50,314.40) scale(0.88,1)" text-anchor="start" font-size="64.2px" letter-spacing="4.6">10</text>
<text transform="translate(1704.50,388.90) scale(0.88,1)" text-anchor="start" font-size="64.2px" letter-spacing="4.6">20</text>
<text transform="translate(1704.50,463.30) scale(0.88,1)" text-anchor="start" font-size="64.2px" letter-spacing="4.6">5</text>
<text transform="translate(1704.50,536.70) scale(0.88,1)" text-anchor="start" font-size="64.2px" letter-spacing="4.6">10</text>
<text transform="translate(1704.50,610.70) scale(0.88,1)" text-anchor="start" font-size="64.2px" letter-spacing="4.6">20</text>
</svg></body></html>
